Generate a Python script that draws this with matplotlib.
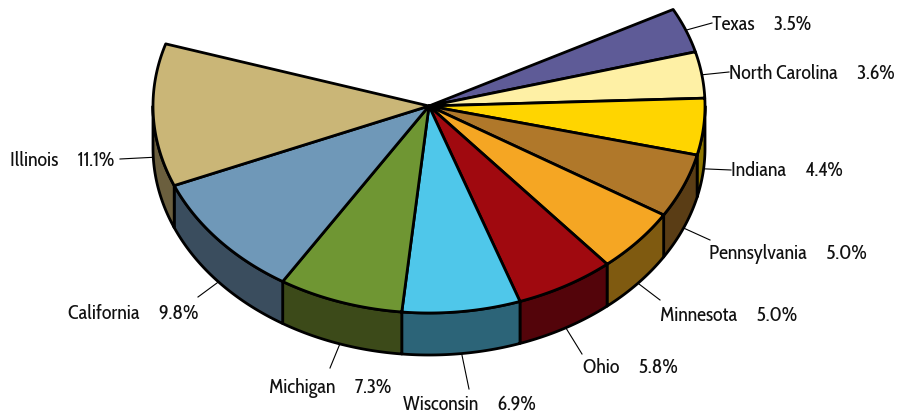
#3d style pie chart of share by state, drawn with patches on a pixel sized axes
import numpy as np
import matplotlib
matplotlib.use('Agg')
import matplotlib.pyplot as plt
from matplotlib.patches import Polygon

states = ['Texas', 'North Carolina', 'Indiana', 'Pennsylvania', 'Minnesota',
          'Ohio', 'Wisconsin', 'Michigan', 'California', 'Illinois']
shares = [3.5, 3.6, 4.4, 5.0, 5.0, 5.8, 6.9, 7.3, 9.8, 11.1]
top_colors = ['#5E5B97', '#FEF0A5', '#FFD500', '#B0782A', '#F5A623',
              '#A0090F', '#4FC7EA', '#6F9633', '#6F98B8', '#CAB677']
side_colors = ['#2F2D4B', '#7F7852', '#8F7700', '#5A3D15', '#7F5A10',
               '#53040A', '#2C6478', '#3C4A19', '#3A4D5E', '#6B5F3E']
label_x = [712, 729, 731, 709, 660, 583, 403, 269, 68, 10]
label_y = [25, 74, 171, 254, 316, 368, 405, 388, 314, 161]
leader_x = [712, 729, 731, 710, 660, 582, 469, 330, 198, 120]
leader_y = [23, 72, 170, 240, 300, 354, 389, 368, 297, 159]

cx, cy = 429, 106
rx, ry = 276, 207
depth = 42
start = 27.8

def rim(angles, drop=0):
    a = np.radians(angles)
    return np.column_stack([cx + rx * np.cos(a), cy - ry * np.sin(a) + drop])

fig = plt.figure(figsize=(9.04, 4.19), dpi=100)
ax = fig.add_axes([0, 0, 1, 1])
ax.set_xlim(0, 904)
ax.set_ylim(419, 0)
ax.axis('off')

ends = start - np.cumsum(shares) * 3.61
begins = np.r_[start, ends[:-1]]

#side walls first, only the part of the rim that faces the viewer
for b, e, col in zip(begins, ends, side_colors):
    hi = min(b, 0)
    lo = max(e, -180)
    if hi <= lo:
        continue
    arc = np.linspace(hi, lo, 80)
    pts = np.vstack([rim(arc), rim(arc[::-1], depth)])
    ax.add_patch(Polygon(pts, closed=True, fc=col, ec='black', lw=2.0, joinstyle='round', zorder=2))

#top faces
for b, e, col in zip(begins, ends, top_colors):
    arc = np.linspace(b, e, 80)
    pts = np.vstack([[cx, cy], rim(arc)])
    ax.add_patch(Polygon(pts, closed=True, fc=col, ec='black', lw=2.0, joinstyle='round', zorder=3))

#leader lines and labels
for i, name in enumerate(states):
    mid = (begins[i] + ends[i]) / 2
    drop = depth if mid < 0 else 0
    p = rim([mid], drop)[0]
    ax.plot([p[0], leader_x[i]], [p[1], leader_y[i]], color='black', lw=0.8, zorder=1)
    ax.text(label_x[i], label_y[i], name + '     ' + f'{shares[i]:.1f}%', ha='left', va='center',
            fontsize=14.5, color='#111111', family=['Cabin Condensed', 'Lato', 'DejaVu Sans'])

fig.savefig('out.png', dpi=100)
